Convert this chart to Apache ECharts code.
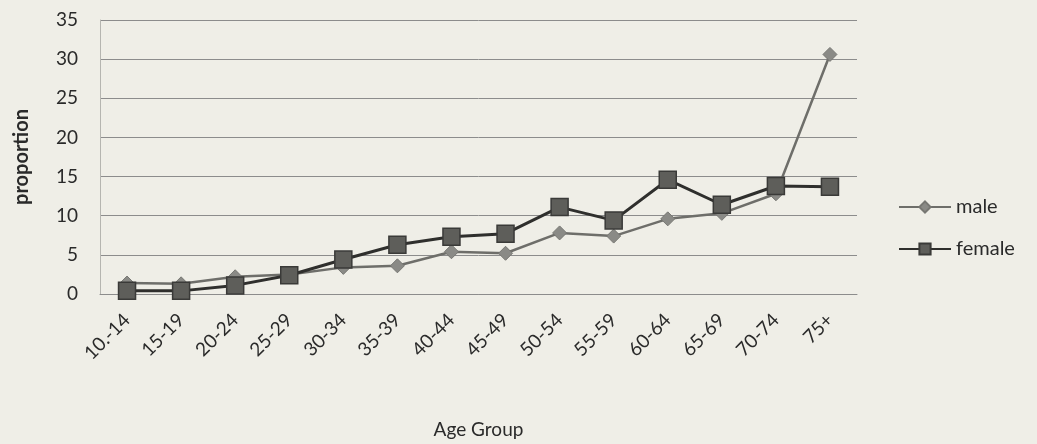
<!DOCTYPE html>
<html>
<head>
<meta charset="utf-8">
<script src="https://cdn.jsdelivr.net/npm/echarts@6/dist/echarts.min.js"></script>
<style>
  html, body { margin: 0; padding: 0; background: #efeee7; }
  #chart { width: 1037px; height: 444px; }
</style>
</head>
<body>
<div id="chart"></div>
<script>
// age groups on the x axis
const ageGroups = ["10.-14", "15-19", "20-24", "25-29", "30-34", "35-39", "40-44",
  "45-49", "50-54", "55-59", "60-64", "65-69", "70-74", "75+"];
// proportions
const maleValues = [1.4, 1.3, 2.2, 2.5, 3.4, 3.6, 5.4, 5.2, 7.8, 7.4, 9.6, 10.3, 12.8, 30.6];
const femaleValues = [0.4, 0.4, 1.1, 2.4, 4.4, 6.3, 7.3, 7.7, 11.1, 9.4, 14.6, 11.4, 13.8, 13.7];

const font = "Lato, 'Open Sans', sans-serif";

const chart = echarts.init(document.getElementById("chart"));
chart.setOption({
  backgroundColor: "#efeee7",
  animation: false,
  grid: { left: 100, right: 180, top: 20, bottom: 143 },
  legend: {
    orient: "vertical",
    left: 893,
    top: 192,
    itemWidth: 52,
    itemHeight: 14,
    itemGap: 22,
    textStyle: { fontFamily: font, fontSize: 20, color: "#2a2a2a" },
    data: ["male", "female"],
  },
  xAxis: {
    type: "category",
    data: ageGroups,
    boundaryGap: true,
    name: "Age Group",
    nameLocation: "middle",
    nameGap: 126,
    nameTextStyle: { fontFamily: font, fontSize: 19, color: "#2a2a2a" },
    axisTick: { show: false },
    axisLine: { lineStyle: { color: "#8c8c8c", width: 1 } },
    axisLabel: {
      rotate: 45,
      interval: 0,
      margin: 23,
      padding: [34, 0, 0, 0],
      fontFamily: font,
      fontSize: 19,
      color: "#2a2a2a",
    },
  },
  yAxis: {
    type: "value",
    min: 0,
    max: 35,
    interval: 5,
    name: "proportion",
    nameLocation: "middle",
    nameGap: 68,
    nameRotate: 90,
    nameTextStyle: { fontFamily: font, fontSize: 20, fontWeight: "bold", color: "#2a2a2a" },
    axisLine: { show: true, lineStyle: { color: "#b5b5b0", width: 1 } },
    axisTick: { show: false },
    axisLabel: { margin: 22, fontFamily: font, fontSize: 19, color: "#2a2a2a" },
    splitLine: { lineStyle: { color: "#8c8c8c", width: 1 } },
  },
  series: [
    {
      name: "male",
      type: "line",
      data: maleValues,
      symbol: "diamond",
      symbolSize: 14,
      itemStyle: { color: "#8a8a86", borderColor: "#777773", borderWidth: 1 },
      lineStyle: { color: "#6e6e6a", width: 2.5 },
      z: 2,
    },
    {
      name: "female",
      type: "line",
      data: femaleValues,
      symbol: "rect",
      symbolSize: 17,
      itemStyle: { color: "#5e5e5a", borderColor: "#3a3a38", borderWidth: 1.5 },
      lineStyle: { color: "#2f2f2d", width: 3 },
      z: 3,
    },
  ],
});
</script>
</body>
</html>
